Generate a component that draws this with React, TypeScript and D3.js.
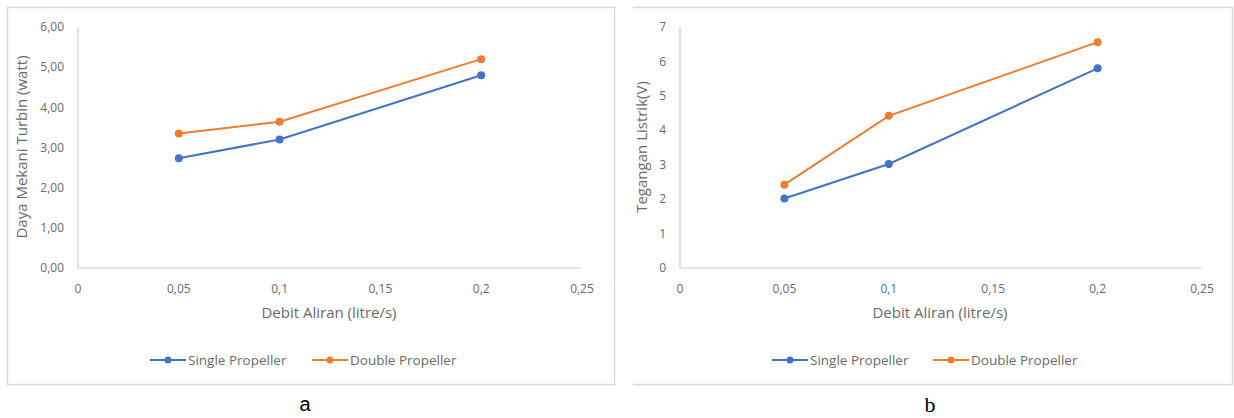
import React from "react";
import * as d3 from "d3";

const xValues = [0.05, 0.1, 0.2];
const xTicks = [0, 0.05, 0.1, 0.15, 0.2, 0.25];
const xTickLabels = ["0", "0,05", "0,1", "0,15", "0,2", "0,25"];

const powerSingle = [2.73, 3.2, 4.8];
const powerDouble = [3.35, 3.64, 5.2];
const powerTicks = [0, 1, 2, 3, 4, 5, 6];
const powerTickLabels = ["0,00", "1,00", "2,00", "3,00", "4,00", "5,00", "6,00"];

const voltSingle = [2.02, 3.02, 5.8];
const voltDouble = [2.42, 4.42, 6.56];
const voltTicks = [0, 1, 2, 3, 4, 5, 6, 7];
const voltTickLabels = ["0", "1", "2", "3", "4", "5", "6", "7"];

const seriesNames = ["Single Propeller", "Double Propeller"];
const colors = ["#4472C4", "#ED7D31"];

const FONT = "'Open Sans', 'Liberation Sans', sans-serif";
const TEXT = "#6a6a6a";
const AXIS = "#d0d0d0";

type PanelProps = {
  x0: number; x1: number; yMax: number;
  yTicks: number[]; yLabels: string[];
  single: number[]; double: number[];
  yTitle: string; yTitleX: number;
  legendX: number[];
};

function Panel(p: PanelProps) {
  const xs = d3.scaleLinear().domain([0, 0.25]).range([p.x0, p.x1]);
  const ys = d3.scaleLinear().domain([0, p.yMax]).range([268, 27]);
  const line = d3.line<number>().x((_, i) => xs(xValues[i])).y((d) => ys(d));
  const data = [p.single, p.double];
  return (
    <g>
      <line x1={p.x0} x2={p.x0} y1={ys(p.yMax)} y2={ys(0)} stroke={AXIS} strokeWidth={1.2} />
      <line x1={p.x0} x2={p.x1} y1={ys(0)} y2={ys(0)} stroke={AXIS} strokeWidth={1.2} />
      {p.yTicks.map((t, i) => (
        <text key={"y" + i} x={p.x0 - 14} y={ys(t)} dy="0.35em" textAnchor="end"
          fontSize={12} fill={TEXT} fontFamily={FONT}>{p.yLabels[i]}</text>
      ))}
      {xTicks.map((t, i) => (
        <text key={"x" + i} x={xs(t)} y={289} dy="0.35em" textAnchor="middle"
          fontSize={12} fill={TEXT} fontFamily={FONT}>{xTickLabels[i]}</text>
      ))}
      <text x={(p.x0 + p.x1) / 2 - 1} y={313} dy="0.35em" textAnchor="middle"
        fontSize={15} fill={TEXT} fontFamily={FONT}>Debit Aliran (litre/s)</text>
      <text transform={`translate(${p.yTitleX},147) rotate(-90)`} dy="0.35em" textAnchor="middle"
        fontSize={15} fill={TEXT} fontFamily={FONT}>{p.yTitle}</text>
      {data.map((s, k) => (
        <g key={"s" + k}>
          <path d={line(s) || ""} fill="none" stroke={colors[k]} strokeWidth={2} />
          {s.map((v, i) => (
            <circle key={i} cx={xs(xValues[i])} cy={ys(v)} r={4} fill={colors[k]} />
          ))}
        </g>
      ))}
      {seriesNames.map((n, k) => (
        <g key={"l" + k}>
          <line x1={p.legendX[k]} x2={p.legendX[k] + 36} y1={360} y2={360} stroke={colors[k]} strokeWidth={2} />
          <circle cx={p.legendX[k] + 18} cy={360} r={3.5} fill={colors[k]} />
          <text x={p.legendX[k] + 38} y={360} dy="0.35em" fontSize={13.5} fill={TEXT} fontFamily={FONT}>{n}</text>
        </g>
      ))}
    </g>
  );
}

export default function App() {
  return (
    <svg width={1234} height={418} style={{ position: "absolute", left: 0, top: 0, background: "#fff" }}>
      <rect x={0} y={0} width={1234} height={418} fill="#fff" />
      <rect x={7.5} y={7.5} width={607} height={377} fill="none" stroke="#d9d9d9" strokeWidth={1.5} />
      <polyline points="633,7.5 1232.5,7.5 1232.5,384.5 633,384.5" fill="none" stroke="#d9d9d9" strokeWidth={1.5} />
      <Panel x0={78} x1={582} yMax={6} yTicks={powerTicks} yLabels={powerTickLabels}
        single={powerSingle} double={powerDouble} yTitle="Daya Mekani Turbin (watt)" yTitleX={22}
        legendX={[150, 312]} />
      <Panel x0={680} x1={1202} yMax={7} yTicks={voltTicks} yLabels={voltTickLabels}
        single={voltSingle} double={voltDouble} yTitle="Tegangan Listrik(V)" yTitleX={642}
        legendX={[772, 933]} />
      <text x={305} y={404} dy="0.35em" textAnchor="middle" fontSize={20} fill="#000"
        fontFamily="'Liberation Sans', Arial, sans-serif">a</text>
      <text x={930} y={404} dy="0.35em" textAnchor="middle" fontSize={22} fill="#000"
        fontFamily="'Liberation Serif', 'Times New Roman', serif">b</text>
    </svg>
  );
}
